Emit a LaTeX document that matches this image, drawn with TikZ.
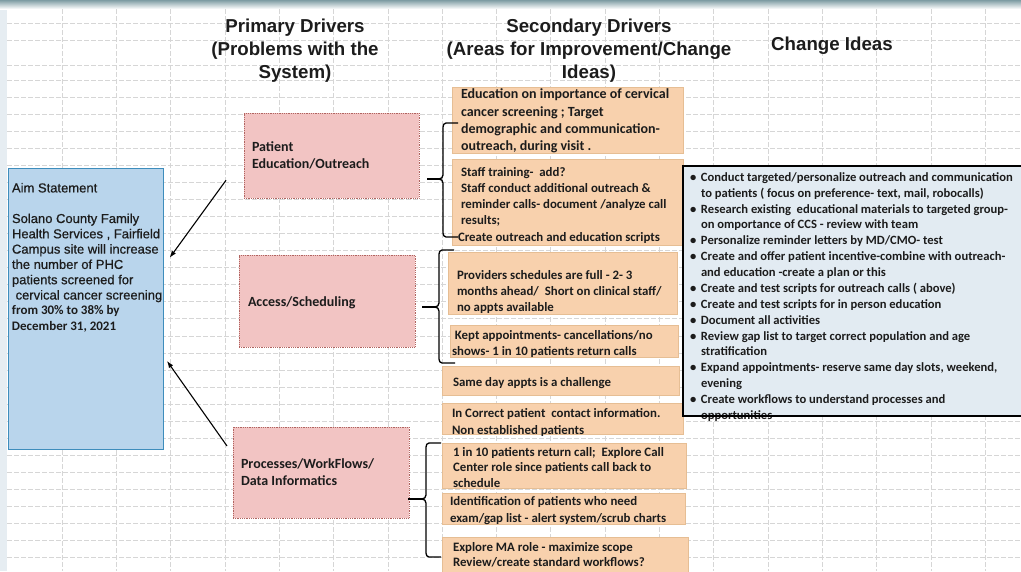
\documentclass[tikz,border=0pt]{standalone}
\usepackage{fontspec}
\setmainfont{Carlito}
\newfontfamily\arialfont{Liberation Sans}
\newfontfamily\aimfont[FakeBold=0.6]{Liberation Sans}
\usetikzlibrary{arrows.meta}

\definecolor{inkc}{HTML}{1C1C1C}
\definecolor{gridc}{HTML}{D6D6D6}
\definecolor{aimfill}{HTML}{B9D5EC}
\definecolor{aimline}{HTML}{3E8DBC}
\definecolor{pinkfill}{HTML}{F2C4C3}
\definecolor{pinkline}{HTML}{B06460}
\definecolor{peachfill}{HTML}{F8D1AD}
\definecolor{peachline}{HTML}{E6BE94}
\definecolor{ideafill}{HTML}{E2EBF2}
\definecolor{bandc}{HTML}{7E9CA3}
\definecolor{edgec}{HTML}{E6EDF2}

\begin{document}
\begin{tikzpicture}[x=1pt,y=-1pt,
  gridline/.style={gridc,line width=0.5pt,dash pattern=on 5pt off 2pt},
  boxbase/.style={rectangle,inner sep=0pt,outer sep=0pt,anchor=north west},
  aimbox/.style={boxbase,fill=aimfill,draw=aimline,line width=1pt},
  primbox/.style={boxbase,fill=pinkfill,draw=pinkline,line width=0.8pt,densely dotted},
  secbox/.style={boxbase,fill=peachfill,draw=peachline,line width=0.6pt},
  ideabox/.style={boxbase,fill=ideafill},
  txt/.style={anchor=north west,inner sep=0pt,outer sep=0pt,align=left,text=inkc,
    execute at begin node={\rule{0pt}{0.8em}}},
  bigtxt/.style={txt,font=\bfseries\fontsize{14}{#1}\selectfont},
  bigtxt/.default=17,
  sectxt/.style={txt,font=\bfseries\fontsize{12.85}{#1}\selectfont},
  sectxt/.default=16.5,
  idtxt/.style={txt,font=\bfseries\fontsize{12.6}{15.87}\selectfont},
  head/.style={anchor=north,inner sep=0pt,align=center,text=inkc,
    font=\arialfont\bfseries\fontsize{18.7}{23}\selectfont,
    execute at begin node={\rule{0pt}{0.8em}}},
  bracepath/.style={line width=1.3pt,black},
  arr/.style={line width=1.1pt,black,-{Latex[length=7pt,width=5pt]}}
]
\useasboundingbox (0,0) rectangle (1021,571);
\clip (0,0) rectangle (1021,571);

% sheet background, scanned top edge and cell grid
\fill[white] (0,0) rectangle (1021,571);
\fill[edgec] (0,0) rectangle (7,571);
\shade[top color=bandc,bottom color=white] (0,0) rectangle (1021,9);
\foreach \k in {0,...,17}
  \draw[gridline] ({62+54.3*\k},9) -- ({62+54.3*\k},571);
\foreach \yy in {23,40,65}
  \draw[gridline] (7,\yy) -- (1021,\yy);
\foreach \k in {0,...,29}
  \draw[gridline] (7,{80+17.05*\k}) -- (1021,{80+17.05*\k});

% column headings
\node[head] (hprim) at (295,18.5) {Primary Drivers\\(Problems with the\\System)};
\node[head] (hsec) at (589,19.2) {Secondary Drivers\\(Areas for Improvement/Change\\Ideas)};
\node[head] (hidea) at (832,35) {Change Ideas};

% aim statement
\node[aimbox,minimum width=155pt,minimum height=281pt] (aim) at (8,168) {};
\node[txt,font=\aimfont\fontsize{13}{15.3}\selectfont] (aimt) at (12,183)
  {Aim Statement\\\mbox{}\\Solano County Family\\Health Services , Fairfield\\Campus site will increase\\the number of PHC\\patients screened for\\\ cervical cancer screening\\{\rmfamily\bfseries from 30\% to 38\% by}\\{\rmfamily\bfseries December 31, 2021}};

% primary drivers
\node[primbox,minimum width=175pt,minimum height=85pt] (pat) at (244,113) {};
\node[primbox,minimum width=176pt,minimum height=92pt] (acc) at (239,255) {};
\node[primbox,minimum width=176pt,minimum height=91pt] (proc) at (233,427) {};
\node[bigtxt] (patt) at (252,141.5) {Patient\\Education/Outreach};
\node[bigtxt] (acct) at (248,295) {Access/Scheduling};
\node[bigtxt] (proct) at (241,458.5) {Processes/WorkFlows/\\Data Informatics};

% secondary drivers
\node[secbox,minimum width=231pt,minimum height=66pt] (s1) at (452,87) {};
\node[secbox,minimum width=231pt,minimum height=86pt] (s2) at (452,159) {};
\node[secbox,minimum width=229pt,minimum height=62pt] (s3) at (448,252) {};
\node[secbox,minimum width=228pt,minimum height=32pt] (s4) at (450,325) {};
\node[secbox,minimum width=237pt,minimum height=29pt] (s5) at (442,366) {};
\node[secbox,minimum width=241pt,minimum height=31pt] (s6) at (442,403) {};
\node[secbox,minimum width=244pt,minimum height=45pt] (s7) at (442,443) {};
\node[secbox,minimum width=243pt,minimum height=31pt] (s8) at (442,493) {};
\node[secbox,minimum width=246pt,minimum height=45pt] (s9) at (442,537) {};

\node[bigtxt=17.3] (s1t) at (461,89) {Education on importance of cervical\\cancer screening ; Target\\demographic and communication-\\outreach, during visit .};
\node[sectxt=16.3] (s2t) at (461,167) {Staff training-\ \ add?\\Staff conduct additional outreach \&\\reminder calls- document /analyze call\\results;\\\hspace*{-3pt}Create outreach and education scripts};
\node[sectxt=16] (s3t) at (457,270) {Providers schedules are full - 2- 3\\months ahead/\ \ Short on clinical staff/\\no appts available};
\node[sectxt=16] (s4t) at (452,330) {\ Kept appointments- cancellations/no\\shows- 1 in 10 patients return calls};
\node[sectxt] (s5t) at (453,376.5) {Same day appts is a challenge};
\node[sectxt=17] (s6t) at (452,408) {In Correct patient\ \ contact information.\\Non established patients};
\node[sectxt=15.5] (s7t) at (453,447) {1 in 10 patients return call;\ \ Explore Call\\Center role since patients call back to\\schedule};
\node[sectxt=17] (s8t) at (450,496) {Identification of patients who need\\exam/gap list - alert system/scrub charts};
\node[sectxt=15] (s9t) at (453,542.5) {Explore MA role - maximize scope\\Review/create standard workflows?};

% change ideas
\node[ideabox,minimum width=345pt,minimum height=250pt] (ci) at (683,166) {};
\node[idtxt] (cit) at (690,172.5)
  {\makebox[11pt][l]{•}Conduct targeted/personalize outreach and communication\\
   \hspace*{11pt}to patients ( focus on preference- text, mail, robocalls)\\
   \makebox[11pt][l]{•}Research existing\ \ educational materials to targeted group-\\
   \hspace*{11pt}on omportance of CCS - review with team\\
   \makebox[11pt][l]{•}Personalize reminder letters by MD/CMO- test\\
   \makebox[11pt][l]{•}Create and offer patient incentive-combine with outreach-\\
   \hspace*{11pt}and education -create a plan or this\\
   \makebox[11pt][l]{•}Create and test scripts for outreach calls ( above)\\
   \makebox[11pt][l]{•}Create and test scripts for in person education\\
   \makebox[11pt][l]{•}Document all activities\\
   \makebox[11pt][l]{•}Review gap list to target correct population and age\\
   \hspace*{11pt}stratification\\
   \makebox[11pt][l]{•}Expand appointments- reserve same day slots, weekend,\\
   \hspace*{11pt}evening\\
   \makebox[11pt][l]{•}Create workflows to understand processes and\\
   \hspace*{11pt}opportunities};
\draw[line width=1.3pt,black] (ci.north east) -- (ci.north west) -- (ci.south west) -- (ci.south east);

% braces grouping the secondary drivers
\draw[bracepath] (458,123) -- (446,123) to[out=180,in=90] (443,127) -- (443,175)
  to[out=270,in=0] (439,179) to[out=0,in=90] (443,183) -- (443,233)
  to[out=270,in=180] (446,237) -- (458,237);
\draw[bracepath] (427,179) -- (439,179);
\draw[bracepath] (454,250) -- (442,250) to[out=180,in=90] (439,254) -- (439,303)
  to[out=270,in=0] (435,307) to[out=0,in=90] (439,311) -- (439,359)
  to[out=270,in=180] (442,363) -- (455,363);
\draw[bracepath] (422,307) -- (435,307);
\draw[bracepath] (441,443) -- (429,443) to[out=180,in=90] (426,447) -- (426,495)
  to[out=270,in=0] (422,499) to[out=0,in=90] (426,503) -- (426,553)
  to[out=270,in=180] (429,557) -- (441,557);
\draw[bracepath] (408,499) -- (422,499);

% drivers feeding the aim
\draw[arr,shorten <=30.6pt,shorten >=11.4pt] (pat.west) -- ([yshift=41.5pt]aim.east);
\draw[arr,shorten <=10.4pt,shorten >=6.9pt] ([yshift=18pt]proc.west) -- ([yshift=-46.8pt]aim.east);
\end{tikzpicture}
\end{document}
